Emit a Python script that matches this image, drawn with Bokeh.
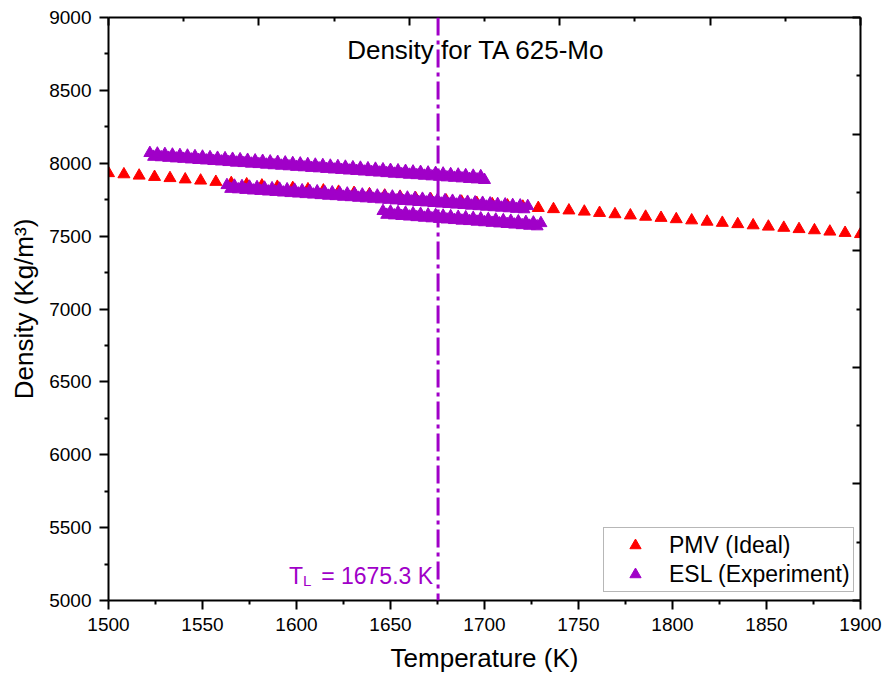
from bokeh.plotting import figure
from bokeh.models import LinearAxis, FixedTicker, Span, Label, Legend, LegendItem
from bokeh.embed import file_html
from bokeh.resources import INLINE

FONT = "Liberation Sans"
PURPLE = "#A000C8"
RED = "#FF0000"

# ---------------- data ----------------
title_text = "Density for TA 625-Mo"
x_label = "Temperature (K)"
y_label = "Density (Kg/m³)"
pmv_label = "PMV (Ideal)"
esl_label = "ESL (Experiment)"
T_liquidus = 1675.3
x_limits = [1500, 1900]
y_limits = [5000, 9000]

x_major_ticks = [1500, 1550, 1600, 1650, 1700, 1750, 1800, 1850, 1900]
x_minor_ticks = [1525, 1575, 1625, 1675, 1725, 1775, 1825, 1875]
y_major_ticks = [5000, 5500, 6000, 6500, 7000, 7500, 8000, 8500, 9000]
y_minor_ticks = [5250, 5750, 6250, 6750, 7250, 7750, 8250, 8750]
top_major = [1500, 1580, 1660, 1740, 1820, 1900]
top_minor = [1540, 1620, 1700, 1780, 1860]
right_major = [5000, 5800, 6600, 7400, 8200, 9000]
right_minor = [5400, 6200, 7000, 7800, 8600]

pmv_T = [1500, 1508.2, 1516.3, 1524.5, 1532.7, 1540.8, 1549.0, 1557.1, 1565.3, 1573.5,
         1581.6, 1589.8, 1598.0, 1606.1, 1614.3, 1622.4, 1630.6, 1638.8, 1646.9, 1655.1,
         1663.3, 1671.4, 1679.6, 1687.8, 1695.9, 1704.1, 1712.2, 1720.4, 1728.6, 1736.7,
         1744.9, 1753.1, 1761.2, 1769.4, 1777.6, 1785.7, 1793.9, 1802.0, 1810.2, 1818.4,
         1826.5, 1834.7, 1842.9, 1851.0, 1859.2, 1867.3, 1875.5, 1883.7, 1891.8, 1900]
pmv_rho = [7932, 7924, 7915, 7906, 7898, 7889, 7881, 7872, 7864, 7855,
           7847, 7838, 7830, 7821, 7813, 7804, 7796, 7787, 7778, 7770,
           7761, 7753, 7744, 7736, 7727, 7719, 7710, 7702, 7693, 7685,
           7676, 7668, 7659, 7650, 7642, 7633, 7625, 7616, 7608, 7599,
           7591, 7582, 7574, 7565, 7557, 7548, 7540, 7531, 7522, 7514]

esl1_T = [1522, 1524, 1526, 1528, 1530, 1532, 1534, 1536, 1538, 1540,
          1542, 1544, 1546, 1548, 1550, 1552, 1554, 1556, 1558, 1560,
          1562, 1564, 1566, 1568, 1570, 1572, 1574, 1576, 1578, 1580,
          1582, 1584, 1586, 1588, 1590, 1592, 1594, 1596, 1598, 1600,
          1602, 1604, 1606, 1608, 1610, 1612, 1614, 1616, 1618, 1620,
          1622, 1624, 1626, 1628, 1630, 1632, 1634, 1636, 1638, 1640,
          1642, 1644, 1646, 1648, 1650, 1652, 1654, 1656, 1658, 1660,
          1662, 1664, 1666, 1668, 1670, 1672, 1674, 1676, 1678, 1680,
          1682, 1684, 1686, 1688, 1690, 1692, 1694, 1696, 1698, 1700]
esl1_rho = [8070, 8044, 8066, 8041, 8063, 8037, 8059, 8033, 8056, 8030,
            8052, 8026, 8048, 8022, 8045, 8019, 8041, 8015, 8037, 8012,
            8034, 8008, 8030, 8004, 8027, 8001, 8023, 7997, 8019, 7994,
            8016, 7990, 8012, 7986, 8009, 7983, 8005, 7979, 8001, 7975,
            7998, 7972, 7994, 7968, 7990, 7965, 7987, 7961, 7983, 7957,
            7980, 7954, 7976, 7950, 7972, 7947, 7969, 7943, 7965, 7939,
            7962, 7936, 7958, 7932, 7954, 7928, 7951, 7925, 7947, 7921,
            7943, 7918, 7940, 7914, 7936, 7910, 7933, 7907, 7929, 7903,
            7925, 7900, 7922, 7896, 7918, 7892, 7914, 7889, 7911, 7885]

esl2_T = [1563, 1565, 1567, 1569, 1571, 1573, 1575, 1577, 1579, 1581,
          1583, 1585, 1587, 1589, 1591, 1593, 1595, 1597, 1599, 1601,
          1603, 1605, 1607, 1609, 1611, 1613, 1615, 1617, 1619, 1621,
          1623, 1625, 1627, 1629, 1631, 1633, 1635, 1637, 1639, 1641,
          1643, 1645, 1647, 1649, 1651, 1653, 1655, 1657, 1659, 1661,
          1663, 1665, 1667, 1669, 1671, 1673, 1675, 1677, 1679, 1681,
          1683, 1685, 1687, 1689, 1691, 1693, 1695, 1697, 1699, 1701,
          1703, 1705, 1707, 1709, 1711, 1713, 1715, 1717, 1719, 1721, 1723]
esl2_rho = [7850, 7824, 7846, 7821, 7843, 7817, 7839, 7813, 7836, 7810,
            7832, 7806, 7828, 7803, 7825, 7799, 7821, 7795, 7818, 7792,
            7814, 7788, 7810, 7785, 7807, 7781, 7803, 7777, 7800, 7774,
            7796, 7770, 7792, 7767, 7789, 7763, 7785, 7759, 7782, 7756,
            7778, 7752, 7774, 7749, 7771, 7745, 7767, 7741, 7764, 7738,
            7760, 7734, 7756, 7731, 7753, 7727, 7749, 7723, 7746, 7720,
            7742, 7716, 7738, 7713, 7735, 7709, 7731, 7705, 7728, 7702,
            7724, 7698, 7720, 7695, 7717, 7691, 7713, 7687, 7710, 7684, 7706]

esl3_T = [1646, 1648, 1650, 1652, 1654, 1656, 1658, 1660, 1662, 1664,
          1666, 1668, 1670, 1672, 1674, 1676, 1678, 1680, 1682, 1684,
          1686, 1688, 1690, 1692, 1694, 1696, 1698, 1700, 1702, 1704,
          1706, 1708, 1710, 1712, 1714, 1716, 1718, 1720, 1722, 1724,
          1726, 1728, 1730]
esl3_rho = [7672, 7646, 7668, 7642, 7664, 7638, 7660, 7634, 7656, 7630,
            7652, 7626, 7648, 7622, 7644, 7618, 7640, 7614, 7636, 7610,
            7632, 7606, 7629, 7603, 7625, 7599, 7621, 7595, 7617, 7591,
            7613, 7587, 7609, 7583, 7605, 7579, 7601, 7575, 7597, 7571,
            7593, 7567, 7589]

esl_T = esl1_T + esl2_T + esl3_T
esl_rho = esl1_rho + esl2_rho + esl3_rho

# ---------------- figure ----------------
p = figure(width=885, height=681, output_backend="svg", toolbar_location=None,
           min_border_left=108, min_border_right=25, min_border_top=17,
           min_border_bottom=81, x_axis_label=x_label, y_axis_label=y_label)
# auto (data) ranges without padding; an invisible pair of points spans the axis limits
p.x_range.range_padding = 0
p.y_range.range_padding = 0
p.outline_line_color = None
p.xgrid.visible = False
p.ygrid.visible = False
p.background_fill_color = "white"
p.border_fill_color = "white"

p.xaxis.ticker = FixedTicker(ticks=x_major_ticks, minor_ticks=x_minor_ticks)
p.yaxis.ticker = FixedTicker(ticks=y_major_ticks, minor_ticks=y_minor_ticks)

for ax in (p.xaxis[0], p.yaxis[0]):
    ax.axis_line_width = 2
    ax.axis_line_color = "black"
    ax.major_tick_line_color = "black"
    ax.minor_tick_line_color = "black"
    ax.major_tick_line_width = 2
    ax.minor_tick_line_width = 2
    ax.major_tick_in = 0
    ax.major_tick_out = 9
    ax.minor_tick_in = 0
    ax.minor_tick_out = 4
    ax.major_label_text_font = FONT
    ax.major_label_text_font_size = "19px"
    ax.major_label_text_color = "black"
    ax.major_label_standoff = 8
    ax.axis_label_text_font = FONT
    ax.axis_label_text_font_size = "26px"
    ax.axis_label_text_font_style = "normal"
    ax.axis_label_text_color = "black"
p.xaxis[0].axis_label_standoff = 9
p.yaxis[0].axis_label_standoff = 7

top_axis = LinearAxis(ticker=FixedTicker(ticks=top_major, minor_ticks=top_minor))
right_axis = LinearAxis(ticker=FixedTicker(ticks=right_major, minor_ticks=right_minor))
for ax in (top_axis, right_axis):
    ax.axis_line_width = 2
    ax.axis_line_color = "black"
    ax.major_tick_line_color = "black"
    ax.minor_tick_line_color = "black"
    ax.major_tick_line_width = 2
    ax.minor_tick_line_width = 2
    ax.major_tick_in = 8
    ax.major_tick_out = 0
    ax.minor_tick_in = 4
    ax.minor_tick_out = 0
    ax.major_label_text_font_size = "1px"
    ax.major_label_text_color = None
    ax.major_label_standoff = 0
p.add_layout(top_axis, "above")
p.add_layout(right_axis, "right")

# ---------------- glyphs ----------------
p.scatter(x_limits, y_limits, size=1, fill_alpha=0, line_alpha=0)
r_pmv = p.scatter(pmv_T, pmv_rho, marker="triangle", size=12,
                  fill_color=RED, line_color=RED, line_width=1)
r_esl = p.scatter(esl_T, esl_rho, marker="triangle", size=12,
                  fill_color=PURPLE, line_color=PURPLE, line_width=1)

p.add_layout(Span(location=T_liquidus, dimension="height", line_color=PURPLE,
                  line_width=3, line_dash="18 5 4 5"))

p.add_layout(Label(x=1695.6, y=8774, text=title_text, text_align="center",
                   text_baseline="alphabetic", text_font=FONT,
                   text_font_size="26px", text_color="black"))

p.add_layout(Label(x=T_liquidus, y=5171, x_offset=-149, text="T", text_align="left",
                   text_baseline="alphabetic", text_font=FONT,
                   text_font_size="23px", text_color=PURPLE))
p.add_layout(Label(x=T_liquidus, y=5137, x_offset=-135, text="L", text_align="left",
                   text_baseline="alphabetic", text_font=FONT,
                   text_font_size="15px", text_color=PURPLE))
p.add_layout(Label(x=T_liquidus, y=5171, x_offset=-5, text="= %.1f K" % T_liquidus,
                   text_align="right", text_baseline="alphabetic", text_font=FONT,
                   text_font_size="23px", text_color=PURPLE))

legend = Legend(items=[LegendItem(label=pmv_label, renderers=[r_pmv]),
                       LegendItem(label=esl_label, renderers=[r_esl])],
                location=(495, 8), glyph_width=56, glyph_height=28,
                label_height=28, spacing=1, padding=3, label_standoff=6,
                label_text_font=FONT, label_text_font_size="23px",
                label_text_color="black", border_line_color="#707070",
                border_line_width=1.5, background_fill_color="white",
                background_fill_alpha=1.0, margin=0)
p.add_layout(legend)

open("out.html", "w").write(file_html(p, INLINE))
